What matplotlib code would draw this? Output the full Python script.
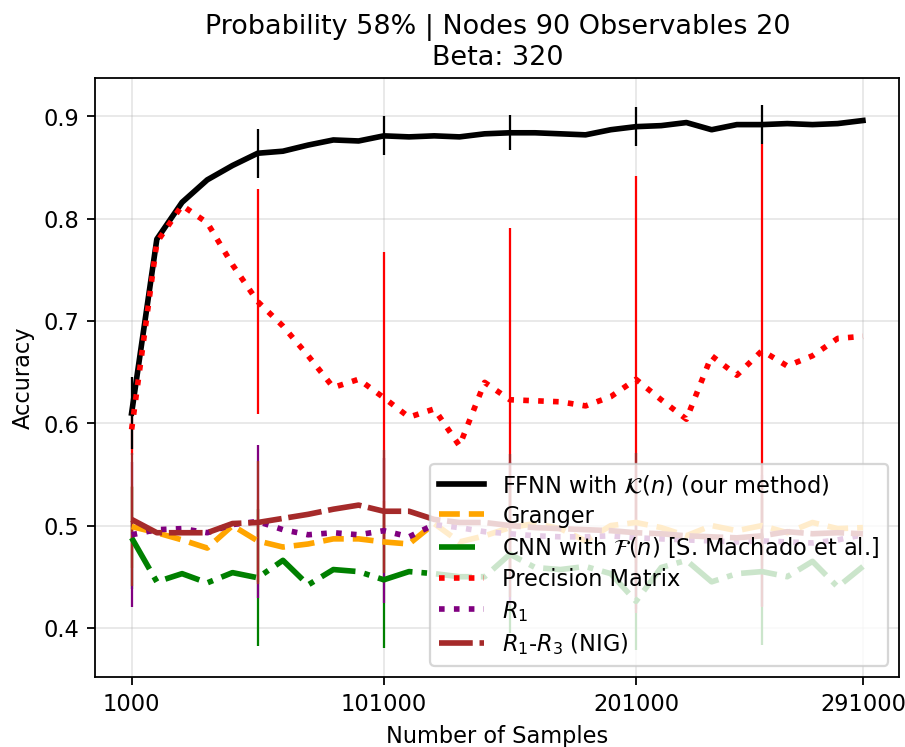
import numpy as np
import matplotlib
matplotlib.use("Agg")
import matplotlib.pyplot as plt

# sample sizes
samples = [1000, 11000, 21000, 31000, 41000, 51000, 61000, 71000, 81000, 91000,
           101000, 111000, 121000, 131000, 141000, 151000, 161000, 171000, 181000, 191000,
           201000, 211000, 221000, 231000, 241000, 251000, 261000, 271000, 281000, 291000]

ffnn = [0.610, 0.780, 0.816, 0.838, 0.852, 0.864, 0.866, 0.872, 0.877, 0.876,
        0.881, 0.880, 0.881, 0.880, 0.883, 0.884, 0.884, 0.883, 0.882, 0.887,
        0.890, 0.891, 0.894, 0.887, 0.892, 0.892, 0.893, 0.892, 0.893, 0.896]
granger = [0.499, 0.493, 0.486, 0.478, 0.500, 0.485, 0.479, 0.482, 0.487, 0.487,
           0.484, 0.482, 0.502, 0.484, 0.490, 0.498, 0.502, 0.497, 0.485, 0.500,
           0.503, 0.498, 0.490, 0.500, 0.495, 0.500, 0.493, 0.503, 0.497, 0.498]
cnn = [0.488, 0.445, 0.453, 0.444, 0.454, 0.449, 0.466, 0.442, 0.457, 0.455,
       0.447, 0.455, 0.453, 0.450, 0.450, 0.472, 0.459, 0.457, 0.460, 0.453,
       0.426, 0.459, 0.466, 0.445, 0.453, 0.455, 0.450, 0.465, 0.440, 0.460]
precision = [0.594, 0.777, 0.813, 0.796, 0.755, 0.719, 0.695, 0.666, 0.635, 0.643,
             0.625, 0.606, 0.614, 0.578, 0.640, 0.623, 0.622, 0.621, 0.617, 0.626,
             0.643, 0.623, 0.604, 0.666, 0.647, 0.671, 0.656, 0.666, 0.683, 0.685]
r1 = [0.491, 0.496, 0.497, 0.493, 0.501, 0.504, 0.496, 0.491, 0.493, 0.491,
      0.495, 0.489, 0.501, 0.498, 0.494, 0.492, 0.490, 0.489, 0.489, 0.490,
      0.488, 0.487, 0.486, 0.485, 0.484, 0.485, 0.484, 0.483, 0.486, 0.491]
nig = [0.506, 0.493, 0.493, 0.493, 0.502, 0.503, 0.507, 0.511, 0.516, 0.520,
       0.514, 0.514, 0.506, 0.503, 0.503, 0.500, 0.498, 0.497, 0.496, 0.495,
       0.493, 0.492, 0.490, 0.489, 0.488, 0.490, 0.494, 0.492, 0.493, 0.492]

# std shown at every 5th sample size
ffnn_err = [0.035, 0.024, 0.019, 0.017, 0.019, 0.019]
granger_err = [0.04, 0.04, 0.04, 0.04, 0.04, 0.04]
cnn_err = [0.05, 0.067, 0.067, 0.077, 0.048, 0.072]
precision_err = [0.025, 0.110, 0.142, 0.168, 0.199, 0.202]
r1_err = [0.071, 0.075, 0.071, 0.070, 0.070, 0.064]
nig_err = [0.065, 0.060, 0.060, 0.070, 0.078, 0.070]

labels = [r'FFNN with $\mathcal{K}(n)$ (our method)', 'Granger',
          r'CNN with $\mathcal{F}(n)$ [S. Machado et al.]', 'Precision Matrix',
          r'$R_1$', r'$R_1$-$R_3$ (NIG)']
colors = ['black', 'orange', 'green', 'red', 'purple', 'brown']
styles = ['-', '--', '-.', ':', ':', (0, (6, 1.2))]
series = [ffnn, granger, cnn, precision, r1, nig]
errors = [ffnn_err, granger_err, cnn_err, precision_err, r1_err, nig_err]

dpi = 162
fig = plt.figure(figsize=(905.5 / dpi, 747.5 / dpi), dpi=dpi)
ax = fig.add_axes([95 / 905, 1 - 677 / 747, 804 / 905, 599 / 747])

x = np.array(samples)

# error bars first (underneath the lines), FFNN bars on top of the others
for k in [1, 2, 3, 4, 5, 0]:
    ax.errorbar(x[::5], np.array(series[k])[::5], yerr=errors[k], fmt='none',
                ecolor=colors[k], elinewidth=1.0, zorder=1.9)

for k in range(6):
    ax.plot(x, series[k], color=colors[k], linestyle=styles[k], linewidth=2.5,
            label=labels[k], zorder=2)

ax.set_xticks([1000, 101000, 201000, 291000])
ax.set_xlim(-13500, 305500)
ax.set_ylim(0.352, 0.938)
ax.grid(True, alpha=0.3)
ax.set_xlabel('Number of Samples')
ax.set_ylabel('Accuracy')
ax.set_title('Probability 58% | Nodes 90 Observables 20\nBeta: 320', fontsize=12)
ax.legend(loc='lower right', labelspacing=0.34)

fig.savefig('out.png', dpi=dpi)
